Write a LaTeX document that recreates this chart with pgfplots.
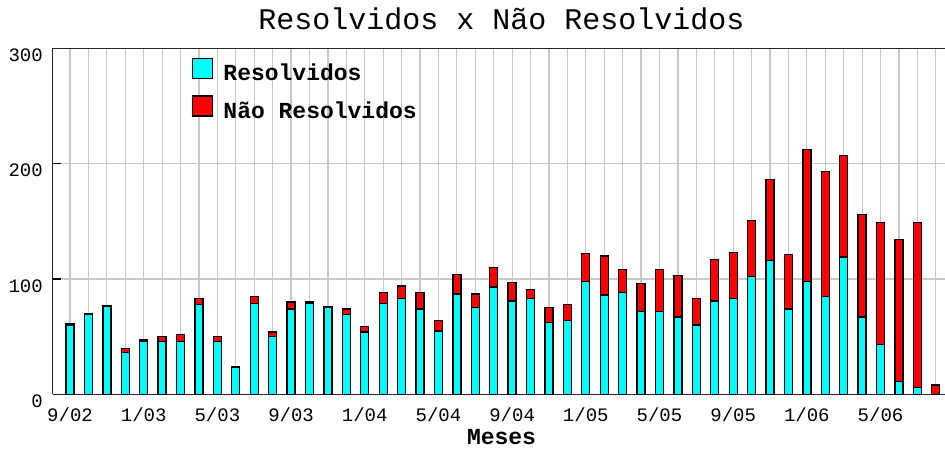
\documentclass[border=0pt]{standalone}
\usepackage{pgfplots}
\pgfplotsset{compat=1.18}
\usepackage{pgfplotstable}
\usepackage{fontspec}
\setmainfont{Liberation Mono}
\usetikzlibrary{calc}
\definecolor{cres}{RGB}{0,255,255}
\definecolor{cnres}{RGB}{255,0,0}
\definecolor{gridc}{RGB}{200,200,200}
\pgfplotsset{layers/mylayers/.define layer set={axis background,axis grid,pre main,main,axis ticks,axis lines,axis tick labels,axis descriptions,axis foreground}{}}

\pgfplotstableread{
idx R N
0 60 1
1 69 1
2 76 1
3 36 4
4 46 1
5 46 4
6 46 6
7 78 5
8 46 4
9 23 1
10 79 6
11 50 4
12 74 6
13 79 1
14 75 1
15 69 5
16 54 5
17 79 9
18 83 11
19 74 14
20 55 9
21 87 17
22 75 12
23 93 17
24 81 16
25 83 8
26 62 13
27 64 14
28 98 24
29 86 34
30 88 20
31 72 24
32 72 36
33 67 36
34 60 23
35 81 36
36 83 40
37 102 49
38 116 70
39 74 47
40 98 114
41 85 108
42 119 88
43 67 89
44 43 106
45 11 123
46 6 143
47 0 8
}\datatab

\begin{document}
\begin{tikzpicture}
\begin{axis}[name=ax, set layers=mylayers,
  scale only axis, width=892.3pt, height=346pt,
  xmin=-0.94, xmax=47.5, ymin=0, ymax=300,
  ybar stacked, bar width=8pt,
  axis lines*=left,
  axis line style={black!85, line width=1.5pt},
  xtick={0,4,...,44},
  xticklabels={9/02,1/03,5/03,9/03,1/04,5/04,9/04,1/05,5/05,9/05,1/06,5/06},
  minor xtick={0,...,47},
  ytick={0,100,200,300},
  tick align=inside, major tick length=8pt, minor tick length=8pt,
  tick style={black, line width=1.2pt},
  minor tick style={black, line width=1.2pt},
  xmajorgrids, xminorgrids, ymajorgrids,
  grid style={gridc, line width=1.2pt},
  minor grid style={gridc, line width=1.2pt},
  /pgf/number format/assume math mode=true,
  tick label style={font=\fontsize{19}{19}\selectfont},
  xticklabel style={anchor=base, inner sep=0pt, yshift=-27.4pt},
  yticklabel style={anchor=east, inner sep=0pt, xshift=-9.7pt, yshift=-7pt},
  title={Resolvidos x Não Resolvidos},
  title style={font=\fontsize{30}{30}\selectfont, at={(axis description cs:0.503,1)}, anchor=base, yshift=13.3pt, inner sep=0pt},
  xlabel={Meses},
  xlabel style={font=\fontsize{23}{23}\selectfont\bfseries, at={(axis description cs:0.503,0)}, anchor=base, yshift=-50.5pt, inner sep=0pt},
  legend cell align=left,
  legend image code/.code={\draw[#1,draw=black,line width=1.5pt] (0pt,2pt) rectangle (20pt,22pt);},
  legend style={at={(axis description cs:0.1561,0.972)}, anchor=north west, draw=none, fill=none,
    inner sep=0pt, outer sep=0pt, row sep=10.7pt, column sep=10pt,
    font=\fontsize{23}{23}\selectfont\bfseries,
    nodes={inner sep=0pt, text height=22pt, text depth=4pt, anchor=base west},
    cells={anchor=base west}},
]
\addplot[fill=cres, draw=black, line width=1.3pt] table[x=idx, y=R] {\datatab};
\addlegendentry{Resolvidos}
\addplot[fill=cnres, draw=black, line width=1.3pt] table[x=idx, y=N] {\datatab};
\addlegendentry{Não Resolvidos}
\draw[black!85, line width=1.5pt] (rel axis cs:0,1) -- (rel axis cs:1,1);
\end{axis}
\pgfresetboundingbox
\useasboundingbox ($(ax.south west)+(-52.7pt,-53.7pt)$) rectangle ($(ax.south west)+(892.3pt,394.3pt)$);
\end{tikzpicture}
\end{document}
